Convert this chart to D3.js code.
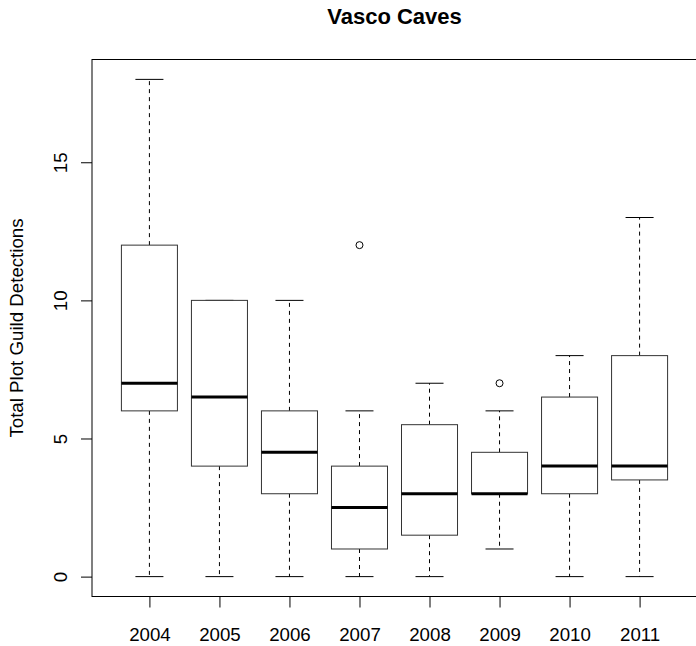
<!DOCTYPE html>
<html>
<head>
<meta charset="utf-8">
<script src="https://cdn.jsdelivr.net/npm/d3@7"></script>
<style>
  html, body { margin: 0; padding: 0; background: #fff; }
  svg { display: block; font-family: "Liberation Sans", Arial, sans-serif; }
</style>
</head>
<body>
<svg id="chart" width="696" height="646"></svg>
<script>
// ---- data ----
const years = ["2004", "2005", "2006", "2007", "2008", "2009", "2010", "2011"];
const whiskerLow = [0, 0, 0, 0, 0, 1, 0, 0];
const q1 =         [6, 4, 3, 1, 1.5, 3, 3, 3.5];
const median =     [7, 6.5, 4.5, 2.5, 3, 3, 4, 4];
const q3 =         [12, 10, 6, 4, 5.5, 4.5, 6.5, 8];
const whiskerHigh =[18, 10, 10, 6, 7, 6, 8, 13];
const outliers = [[], [], [], [12], [], [7], [], []];
const yTicks = [0, 5, 10, 15];
const title = "Vasco Caves";
const yLabel = "Total Plot Guild Detections";

// ---- layout ----
const svg = d3.select("#chart");
const plotL = 92, plotR = 697, plotT = 59.5, plotB = 596.5;
const n = years.length;
const axisFont = "18.7px";
const x = d3.scaleLinear().domain([0.18, n + 0.82]).range([plotL, plotR]);
const y = d3.scaleLinear().domain([-0.72, 18.72]).range([plotB, plotT]);
const boxW = (x(1) - x(0)) * 0.8;
const capW = boxW * 0.5;

const g = svg.append("g");

const data = years.map((yr, i) => ({
  yr, i: i + 1,
  lo: whiskerLow[i], q1: q1[i], med: median[i], q3: q3[i], hi: whiskerHigh[i],
  out: outliers[i]
}));

const box = g.selectAll("g.box").data(data).enter().append("g").attr("class", "box");

// whiskers (dashed)
box.append("line")
  .attr("x1", d => x(d.i)).attr("x2", d => x(d.i))
  .attr("y1", d => y(d.q3)).attr("y2", d => y(d.hi))
  .attr("stroke", "#000").attr("stroke-width", 1).attr("stroke-dasharray", "4,4");
box.append("line")
  .attr("x1", d => x(d.i)).attr("x2", d => x(d.i))
  .attr("y1", d => y(d.q1)).attr("y2", d => y(d.lo))
  .attr("stroke", "#000").attr("stroke-width", 1).attr("stroke-dasharray", "4,4");
// caps
box.append("line")
  .attr("x1", d => x(d.i) - capW / 2).attr("x2", d => x(d.i) + capW / 2)
  .attr("y1", d => y(d.hi)).attr("y2", d => y(d.hi))
  .attr("stroke", "#000").attr("stroke-width", 1);
box.append("line")
  .attr("x1", d => x(d.i) - capW / 2).attr("x2", d => x(d.i) + capW / 2)
  .attr("y1", d => y(d.lo)).attr("y2", d => y(d.lo))
  .attr("stroke", "#000").attr("stroke-width", 1);
// box
box.append("rect")
  .attr("x", d => x(d.i) - boxW / 2).attr("width", boxW)
  .attr("y", d => y(d.q3)).attr("height", d => y(d.q1) - y(d.q3))
  .attr("fill", "#fff").attr("stroke", "#333").attr("stroke-width", 1);
// median
box.append("line")
  .attr("x1", d => x(d.i) - boxW / 2).attr("x2", d => x(d.i) + boxW / 2)
  .attr("y1", d => y(d.med)).attr("y2", d => y(d.med))
  .attr("stroke", "#000").attr("stroke-width", 3);
// outliers
box.selectAll("circle").data(d => d.out.map(v => ({ i: d.i, v }))).enter()
  .append("circle")
  .attr("cx", d => x(d.i)).attr("cy", d => y(d.v)).attr("r", 3.5)
  .attr("fill", "none").attr("stroke", "#000").attr("stroke-width", 1);

// frame
g.append("rect")
  .attr("x", plotL).attr("y", plotT)
  .attr("width", plotR - plotL).attr("height", plotB - plotT)
  .attr("fill", "none").attr("stroke", "#000").attr("stroke-width", 1);

// y axis
const yAxis = g.append("g").attr("transform", `translate(${plotL},0)`)
  .call(d3.axisLeft(y).tickValues(yTicks).tickSize(11).tickFormat(d3.format("d")));
yAxis.select(".domain").remove();
yAxis.selectAll("text")
  .attr("x", null).attr("dy", null)
  .attr("transform", "translate(-25,0) rotate(-90)")
  .attr("text-anchor", "middle")
  .style("font-size", axisFont).style("font-family", "'Liberation Sans', Arial, sans-serif")
  .attr("fill", "#000");

// x axis
const xAxis = g.append("g").attr("transform", `translate(0,${plotB})`)
  .call(d3.axisBottom(x).tickValues(d3.range(1, n + 1)).tickSize(11)
    .tickFormat(d => years[d - 1]));
xAxis.select(".domain").remove();
xAxis.selectAll("text")
  .attr("y", 44.5).attr("dy", null)
  .style("font-size", axisFont).style("font-family", "'Liberation Sans', Arial, sans-serif")
  .attr("fill", "#000");

// title
svg.append("text")
  .attr("x", (plotL + plotR) / 2).attr("y", 24)
  .attr("text-anchor", "middle")
  .style("font-size", "22px").style("font-weight", "bold")
  .text(title);

// y label
svg.append("text")
  .attr("transform", `translate(23,${(plotT + plotB) / 2}) rotate(-90)`)
  .attr("text-anchor", "middle")
  .style("font-size", axisFont)
  .text(yLabel);
</script>
</body>
</html>
